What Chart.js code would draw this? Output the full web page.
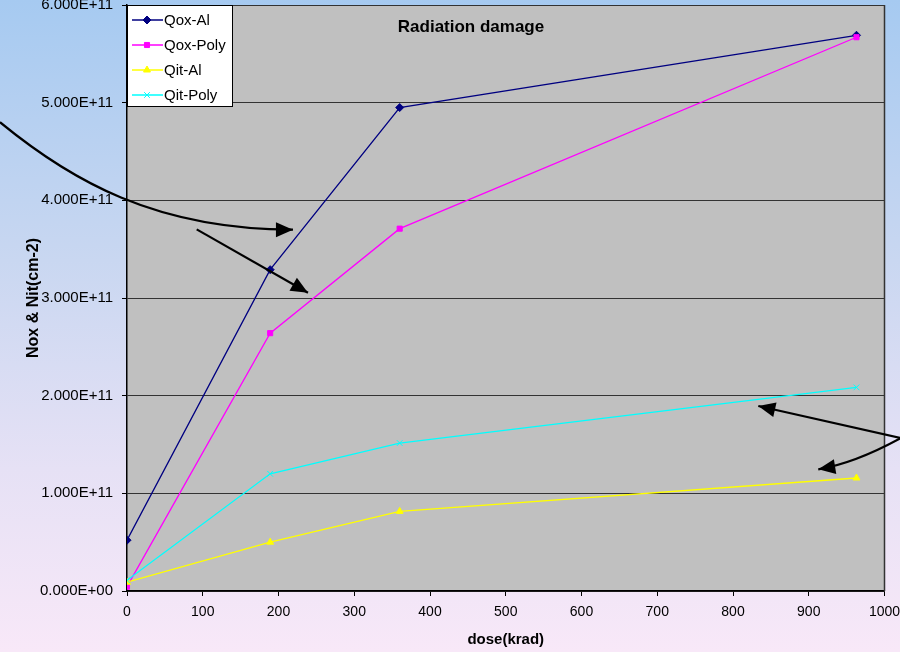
<!DOCTYPE html>
<html>
<head>
<meta charset="utf-8">
<script src="https://cdn.jsdelivr.net/npm/chart.js@4.4.1/dist/chart.umd.min.js"></script>
<style>
html, body { margin: 0; padding: 0; }
body {
  width: 900px; height: 652px; overflow: hidden;
  background: linear-gradient(to bottom, #a6caf1 0%, #c9d7f1 40%, #e6e1f5 72%, #f8e8f8 100%);
}
canvas { display: block; }
</style>
</head>
<body>
<canvas id="chart" width="900" height="652"></canvas>
<script>
// Dose points (krad) and measured charge densities (cm-2)
const doses = [0, 189, 360, 963];
const qoxAl = [0.52e11, 3.29e11, 4.95e11, 5.69e11];
const qoxPoly = [0.045e11, 2.64e11, 3.71e11, 5.67e11];
const qitAl = [0.09e11, 0.50e11, 0.815e11, 1.157e11];
const qitPoly = [0.11e11, 1.20e11, 1.515e11, 2.085e11];

const seriesNames = ['Qox-Al', 'Qox-Poly', 'Qit-Al', 'Qit-Poly'];
const seriesColors = ['#000080', '#ff00ff', '#ffff00', '#00ffff'];
const seriesMarkers = ['rectRot', 'rect', 'triangle', 'crossRot'];

const yTickLabels = ['0.000E+00', '1.000E+11', '2.000E+11', '3.000E+11', '4.000E+11', '5.000E+11', '6.000E+11'];
const xTickLabels = ['0', '100', '200', '300', '400', '500', '600', '700', '800', '900', '1000'];

const chartTitle = 'Radiation damage';
const xAxisTitle = 'dose(krad)';
const yAxisTitle = 'Nox & Nit(cm-2)';

// Annotation arrows, in data units (dose, charge); 2 points = straight, 3 = quadratic, 4 = cubic
const arrowPaths = [
  [[-167.7, 4.80e11], [-75.2, 4.21e11], [37.0, 3.70e11], [219.1, 3.70e11]],
  [[92.0, 3.703e11], [238.9, 3.054e11]],
  [[1033.7, 1.546e11], [833.4, 1.894e11]],
  [[1033.7, 1.618e11], [964.7, 1.311e11], [912.6, 1.246e11]]
];

const FONT = "'Liberation Sans', Arial, sans-serif";
Chart.defaults.font.family = FONT;
Chart.defaults.color = '#000';

const seriesValues = [qoxAl, qoxPoly, qitAl, qitPoly];
const markerSizes = [4, 3.6, 4, 4];
const datasets = seriesValues.map((vals, i) => ({
  label: seriesNames[i],
  data: vals.map((v, j) => ({ x: doses[j], y: v })),
  borderColor: seriesColors[i],
  backgroundColor: seriesColors[i],
  borderWidth: 1.3,
  pointStyle: seriesMarkers[i],
  pointRadius: markerSizes[i],
  pointHoverRadius: markerSizes[i],
  pointBorderWidth: 1,
  tension: 0,
  order: 4 - i
}));

function drawArrowHead(ctx, tip, from) {
  const ang = Math.atan2(tip.y - from.y, tip.x - from.x);
  const len = 17, half = 7.5;
  ctx.beginPath();
  ctx.moveTo(tip.x, tip.y);
  ctx.lineTo(tip.x - len * Math.cos(ang) + half * Math.sin(ang), tip.y - len * Math.sin(ang) - half * Math.cos(ang));
  ctx.lineTo(tip.x - len * Math.cos(ang) - half * Math.sin(ang), tip.y - len * Math.sin(ang) + half * Math.cos(ang));
  ctx.closePath();
  ctx.fill();
}

const decorations = {
  id: 'decorations',
  beforeDraw(chart) {
    const { ctx, chartArea: a } = chart;
    ctx.save();
    ctx.fillStyle = '#c0c0c0';
    ctx.fillRect(a.left, a.top, a.right - a.left, a.bottom - a.top);
    ctx.restore();
  },
  afterDraw(chart) {
    const { ctx, chartArea: a, scales } = chart;
    ctx.save();
    // right frame edge
    ctx.strokeStyle = '#333';
    ctx.lineWidth = 1.5;
    ctx.beginPath();
    ctx.moveTo(a.right, a.top);
    ctx.lineTo(a.right, a.bottom);
    ctx.stroke();

    // chart title inside the plot
    ctx.fillStyle = '#000';
    ctx.font = 'bold 17px ' + FONT;
    ctx.textAlign = 'center';
    ctx.textBaseline = 'middle';
    ctx.fillText(chartTitle, 471, 27);

    // legend box
    const lx = a.left, ly = a.top, lw = 105, lh = 101;
    ctx.fillStyle = '#fff';
    ctx.fillRect(lx, ly, lw, lh);
    ctx.strokeStyle = '#000';
    ctx.lineWidth = 1;
    ctx.strokeRect(lx + 0.5, ly + 0.5, lw, lh);
    ctx.font = '15px ' + FONT;
    ctx.textAlign = 'left';
    chart.data.datasets.forEach((ds, i) => {
      const y = ly + 15 + i * 25;
      ctx.strokeStyle = ds.borderColor;
      ctx.fillStyle = ds.backgroundColor;
      ctx.lineWidth = 1.5;
      ctx.beginPath();
      ctx.moveTo(lx + 5, y);
      ctx.lineTo(lx + 36, y);
      ctx.stroke();
      ctx.lineWidth = 1;
      Chart.helpers.drawPoint(ctx, { pointStyle: ds.pointStyle, radius: ds.pointRadius, rotation: 0, borderWidth: 1 }, lx + 20, y);
      ctx.fillStyle = '#000';
      ctx.fillText(ds.label, lx + 37, y + 1);
    });

    // annotation arrows
    ctx.strokeStyle = '#000';
    ctx.fillStyle = '#000';
    ctx.lineWidth = 2.2;
    arrowPaths.forEach(path => {
      const p = path.map(([x, y]) => ({ x: scales.x.getPixelForValue(x), y: scales.y.getPixelForValue(y) }));
      ctx.beginPath();
      ctx.moveTo(p[0].x, p[0].y);
      if (p.length === 2) ctx.lineTo(p[1].x, p[1].y);
      else if (p.length === 3) ctx.quadraticCurveTo(p[1].x, p[1].y, p[2].x, p[2].y);
      else ctx.bezierCurveTo(p[1].x, p[1].y, p[2].x, p[2].y, p[3].x, p[3].y);
      ctx.stroke();
      drawArrowHead(ctx, p[p.length - 1], p[p.length - 2]);
    });
    ctx.restore();
  }
};

new Chart(document.getElementById('chart'), {
  type: 'line',
  data: { datasets },
  options: {
    responsive: false,
    animation: false,
    events: [],
    layout: { padding: { top: 5, right: 15.5, left: 0, bottom: 0 } },
    plugins: { legend: { display: false }, tooltip: { enabled: false } },
    scales: {
      x: {
        type: 'linear',
        min: 0, max: 1000,
        ticks: {
          stepSize: 100,
          padding: 8,
          font: { size: 14 },
          color: '#000',
          maxRotation: 0,
          callback: (v, i) => xTickLabels[i]
        },
        grid: { drawOnChartArea: false, drawTicks: true, tickLength: 5, color: '#000' },
        border: { display: true, color: '#000', width: 1.5 },
        title: {
          display: true, text: xAxisTitle, color: '#000',
          font: { size: 15, weight: 'bold' },
          padding: { top: 0, bottom: 3 }
        },
        afterFit(s) { s.height = 61; s.paddingLeft = 0; s.paddingRight = 0; }
      },
      y: {
        min: 0, max: 6e11,
        ticks: {
          stepSize: 1e11,
          padding: 9,
          font: { size: 15 },
          color: '#000',
          callback: (v, i) => yTickLabels[i]
        },
        grid: { color: '#333', lineWidth: 1, tickLength: 5, tickColor: '#000' },
        border: { display: true, color: '#000', width: 1.5 },
        title: {
          display: true, text: yAxisTitle, color: '#000',
          font: { size: 16, weight: 'bold' },
          padding: { top: 24, bottom: 0 }
        },
        afterFit(s) { s.width = 127; s.paddingTop = 0; s.paddingBottom = 0; }
      }
    }
  },
  plugins: [decorations]
});
</script>
</body>
</html>
